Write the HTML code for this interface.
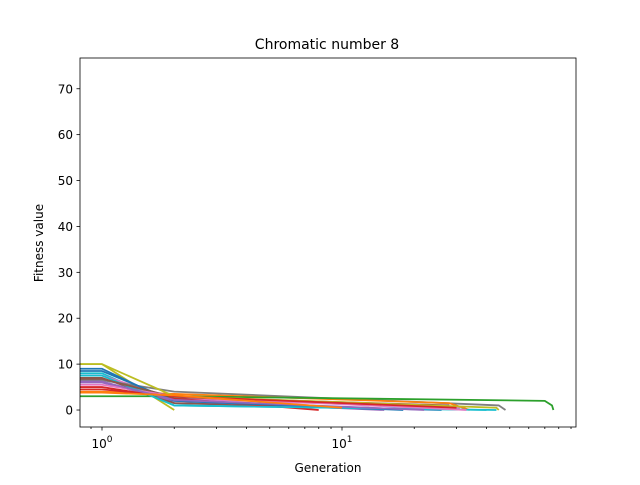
<!DOCTYPE html>
<html><head><meta charset="utf-8"><style>
body{margin:0;background:#fff;}
svg text{font-family:"DejaVu Sans","Liberation Sans",sans-serif;fill:#000;}
</style></head><body>
<svg id="chart" width="640" height="480" xmlns="http://www.w3.org/2000/svg">
<rect width="640" height="480" fill="#fff"/>
<text x="327" y="49" font-size="14" text-anchor="middle">Chromatic number 8</text>
<text x="328" y="472" font-size="12" text-anchor="middle">Generation</text>
<text transform="translate(43,243) rotate(-90)" font-size="12" text-anchor="middle">Fitness value</text>
<defs><clipPath id="clip"><rect x="80" y="58" width="496" height="369"/></clipPath></defs>
<g id="series" clip-path="url(#clip)"></g>
<g id="axes"></g>
</svg>
<script>
const yTicks=[0,10,20,30,40,50,60,70];
const xMajor=[1,10];
const xMajorLabels=["0","1"];
const colors=["#bcbd22","#1f77b4","#17becf","#e377c2","#8c564b","#7f7f7f","#9467bd","#d62728","#ff7f0e","#2ca02c","#1f77b4","#17becf","#8c564b","#e377c2","#bcbd22","#d62728","#9467bd","#ff7f0e"];
const gens0=[0.7,1,2];            const vals0=[10,10,0];
const gens1=[0.7,1,2,26];         const vals1=[9,9,1.5,0];
const gens2=[0.7,1,2,44];         const vals2=[8,8,1,0];
const gens3=[0.7,1,2,31];         const vals3=[7.5,7.5,2.5,0.5];
const gens4=[0.7,1,2,13];         const vals4=[7,7,1.5,0.5];
const gens5=[0.7,1,2,45,48];      const vals5=[6.5,6.5,4,1,0];
const gens6=[0.7,1,2,15];         const vals6=[6,6,2,0];
const gens7=[0.7,1,2,8];          const vals7=[5,5,2.5,0];
const gens8=[0.7,1,2,28,34];      const vals8=[4,4,3.5,1.5,0];
const gens9=[0.7,1,2,70,75,76];   const vals9=[3,3,3,2,1,0];
const gens10=[0.7,1,2,18];        const vals10=[8.5,8.5,2,0];
const gens11=[0.7,1,2,40];        const vals11=[7.5,7.5,1,0];
const gens12=[0.7,1,2,28];        const vals12=[6.8,6.8,2.8,1];
const gens13=[0.7,1,2,33];        const vals13=[5.5,5.5,3,0];
const gens14=[0.7,1,2,44,45];     const vals14=[10,10,3,0.5,0];
const gens15=[0.7,1,2,30];        const vals15=[4.5,4.5,3,0.5];
const gens16=[0.7,1,2,22];        const vals16=[6.2,6.2,2.2,0];
const gens17=[0.7,1,2,10];        const vals17=[3.8,3.8,3.2,0.5];
const allGens=[gens0,gens1,gens2,gens3,gens4,gens5,gens6,gens7,gens8,gens9,gens10,gens11,gens12,gens13,gens14,gens15,gens16,gens17];
const allVals=[vals0,vals1,vals2,vals3,vals4,vals5,vals6,vals7,vals8,vals9,vals10,vals11,vals12,vals13,vals14,vals15,vals16,vals17];

const L=80,R=576,T=58,B=427;
const xmin=Math.pow(10,-22/240), xmax=Math.pow(10,474/240);
const ymin=-3.7, ymax=76.7;
function xs(v){return L+(Math.log10(v)-Math.log10(xmin))/(Math.log10(xmax)-Math.log10(xmin))*(R-L);}
function ys(v){return B-(v-ymin)/(ymax-ymin)*(B-T);}
const NS="http://www.w3.org/2000/svg";
const sg=document.getElementById('series');
allGens.forEach((g,i)=>{
  const p=document.createElementNS(NS,'polyline');
  p.setAttribute('points',g.map((x,j)=>xs(x)+','+ys(allVals[i][j])).join(' '));
  p.setAttribute('fill','none');p.setAttribute('stroke',colors[i]);p.setAttribute('stroke-width','1.8');
  
  
  sg.appendChild(p);
});
const ag=document.getElementById('axes');
function line(x1,y1,x2,y2,w){const l=document.createElementNS(NS,'line');l.setAttribute('x1',x1);l.setAttribute('y1',y1);l.setAttribute('x2',x2);l.setAttribute('y2',y2);l.setAttribute('stroke','#000');l.setAttribute('stroke-width',w||0.8);ag.appendChild(l);return l;}
const fr=document.createElementNS(NS,'rect');
fr.setAttribute('x',L);fr.setAttribute('y',T);fr.setAttribute('width',R-L);fr.setAttribute('height',B-T);
fr.setAttribute('fill','none');fr.setAttribute('stroke','#000');fr.setAttribute('stroke-width','0.8');


ag.appendChild(fr);
yTicks.forEach(v=>{
  const y=ys(v);line(L-3.5,y,L,y);
  const t=document.createElementNS(NS,'text');t.setAttribute('x',L-7);t.setAttribute('y',y+4.5);t.setAttribute('font-size','12');t.setAttribute('text-anchor','end');t.textContent=v;
  
  
  ag.appendChild(t);
});
for(let d=0.1;d<=10;d*=10){for(let k=1;k<10;k++){const v=d*k;if(v<xmin||v>xmax)continue;if(k===1&&(v===1||Math.abs(v-10)<1e-9))continue;line(xs(v),B,xs(v),B+2);}}
xMajor.forEach((v,i)=>{
  const x=xs(v);line(x,B,x,B+3.5);
  const t=document.createElementNS(NS,'text');t.setAttribute('x',x);t.setAttribute('y',B+21);t.setAttribute('font-size','12');t.setAttribute('text-anchor','middle');t.textContent='10';
  
  
  const s=document.createElementNS(NS,'tspan');s.setAttribute('dy','-6');s.setAttribute('font-size','9');s.textContent=xMajorLabels[i];t.appendChild(s);
  ag.appendChild(t);
});
</script>
</body></html>
